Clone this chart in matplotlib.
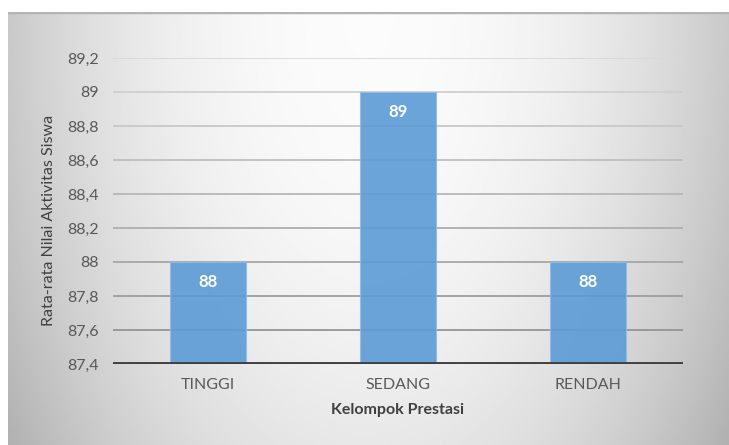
import numpy as np
import matplotlib.pyplot as plt

# rata-rata nilai aktivitas per kelompok prestasi
kelompok = ["TINGGI", "SEDANG", "RENDAH"]
nilai = [88, 89, 88]
y_ticks = [87.4, 87.6, 87.8, 88.0, 88.2, 88.4, 88.6, 88.8, 89.0, 89.2]

plt.rcParams['font.family'] = ['Lato', 'DejaVu Sans']

W, H = 729, 445
fig = plt.figure(figsize=(W / 100, H / 100), dpi=100)

# gradient panel behind the chart
bg = fig.add_axes([8 / W, 0, 1 - 8 / W, (H - 12) / H])
bg.set_axis_off()
gx, gy = np.meshgrid(np.linspace(-1, 1, 400), np.linspace(0, 1, 250))
r = np.sqrt((gx / 1.05) ** 2 + (gy / 1.6) ** 2)
shade = 0.985 - 0.22 * np.clip(r, 0, 1.2) ** 2.2
bg.imshow(shade, cmap='gray', vmin=0, vmax=1, aspect='auto',
          extent=[0, 1, 0, 1], origin='upper')
bg.axhline(1, color='#b4b4b4', lw=2.5)
bg.set_xlim(0, 1)
bg.set_ylim(0, 1)

ax = fig.add_axes([113 / W, 1 - 364 / H, 570 / W, 306 / H])
ax.patch.set_alpha(0)
for s in ax.spines.values():
    s.set_visible(False)

# gridlines get darker towards the bottom
for t in y_ticks[1:]:
    frac = (t - 87.4) / 1.8
    g = 0.55 + 0.3 * frac
    ax.axhline(t, color=(g, g, g), lw=1.3, zorder=1)
ax.axhline(87.4, color='#404040', lw=2.8, zorder=3)

x = np.arange(len(kelompok))
bars = ax.bar(x, nilai, width=0.395, color='#5b9bd5', alpha=0.9,
              edgecolor='#8fbde8', linewidth=0.8, zorder=2)
for b, v in zip(bars, nilai):
    ax.text(b.get_x() + b.get_width() / 2, v - 0.115, f"{v}",
            ha='center', va='center', color='white',
            fontsize=12, fontweight='bold', zorder=4)

ax.set_xlim(-0.5, 2.5)
ax.set_ylim(87.4, 89.2)
ax.set_yticks(y_ticks)
ax.set_yticklabels([f"{t:g}".replace('.', ',') for t in y_ticks])
ax.set_xticks(x)
ax.set_xticklabels(kelompok)
ax.tick_params(length=0, labelsize=11.5, colors='#595959')
ax.tick_params(axis='y', pad=10)
ax.tick_params(axis='x', pad=10)

ax.set_xlabel("Kelompok Prestasi", fontsize=11.5, fontweight='bold',
              color='#404040', labelpad=8)
ax.set_ylabel("Rata-rata Nilai Aktivitas Siswa", fontsize=11.5,
              color='#404040')
ax.yaxis.set_label_coords(-0.1, 0.47)

fig.savefig("out.png", dpi=100)
